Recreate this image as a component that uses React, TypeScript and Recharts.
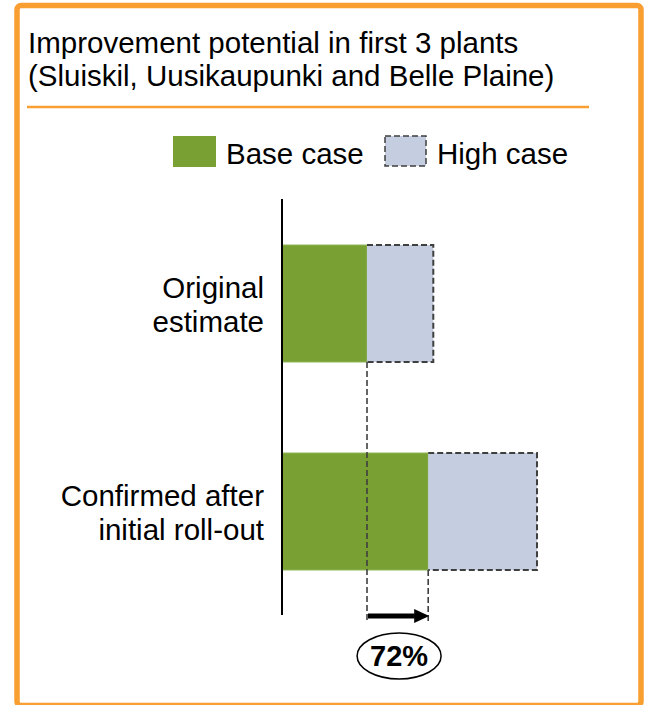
import React from "react";
import { BarChart, Bar, XAxis, YAxis } from "recharts";

const titleLines = [
  "Improvement potential in first 3 plants",
  "(Sluiskil, Uusikaupunki and Belle Plaine)",
];
const categories = ["Original estimate", "Confirmed after initial roll-out"];
const categoryLines = [
  ["Original", "estimate"],
  ["Confirmed after", "initial roll-out"],
];
const seriesNames = ["Base case", "High case"];
const baseCase = [100, 172];
const highCaseExtra = [78, 128];
const growthLabel = "72%";

const data = categories.map((name, i) => ({
  name,
  base: baseCase[i],
  high: highCaseExtra[i],
}));

const GREEN = "#78A033";
const BLUE = "#C4CEE0";
const ORANGE = "#F99E31";
const DASH = "#3F3F3F";
const FONT = "'Liberation Sans', Arial, sans-serif";
const DROP_BOTTOM = 623;

const CategoryTick = (props: any) => {
  const { x, y, payload } = props;
  const idx = categories.indexOf(payload.value);
  const lines = idx >= 0 ? categoryLines[idx] : [String(payload.value)];
  return (
    <g>
      <text
        x={x - 18}
        y={y - 5}
        textAnchor="end"
        fontFamily={FONT}
        fontSize={29.5}
        fill="#000"
      >
        <tspan x={x - 18} y={y - 5}>{lines[0]}</tspan>
        {lines[1] && (
          <tspan x={x - 18} y={y + 29}>{lines[1]}</tspan>
        )}
      </text>
    </g>
  );
};

const BaseShape = (props: any) => {
  const { x, y, width, height } = props;
  return <rect x={x} y={y} width={width} height={height} fill={GREEN} stroke="#8FB55A" strokeWidth={1} />;
};

const HighShape = (props: any) => {
  const { x, y, width, height, payload } = props;
  const isSecond = payload && payload.name === categories[1];
  const right = x + width;
  const bottom = y + height;
  let extras: React.ReactNode = null;
  if (isSecond && payload) {
    const ppu = width / payload.high;
    const origin = x - payload.base * ppu;
    const origRight = origin + baseCase[0] * ppu;
    const tip = x + 1;
    const ay = 616;
    const cx = (origRight + tip) / 2 + 1;
    extras = (
      <g>
        <line x1={origRight + 1} y1={ay} x2={tip - 13} y2={ay} stroke="#000" strokeWidth={5} />
        <polygon points={`${tip - 15},${ay - 7} ${tip},${ay} ${tip - 15},${ay + 7}`} fill="#000" />
        <ellipse cx={cx} cy={656} rx={42} ry={23} fill="#fff" stroke="#000" strokeWidth={1.5} />
        <text
          x={cx}
          y={666}
          textAnchor="middle"
          fontFamily={FONT}
          fontWeight="bold"
          fontSize={29}
          fill="#000"
        >
          {growthLabel}
        </text>
      </g>
    );
  }
  return (
    <g>
      <rect x={x} y={y} width={width} height={height} fill={BLUE} />
      <path
        d={`M${x},${y} L${right},${y} L${right},${bottom} L${x},${bottom}`}
        fill="none"
        stroke={DASH}
        strokeWidth={2}
        strokeDasharray="6 3"
      />
      <line x1={x} y1={bottom} x2={x} y2={DROP_BOTTOM} stroke={DASH} strokeWidth={1.6} strokeDasharray="6 3" />
      {extras}
    </g>
  );
};

export default function App() {
  return (
    <div
      style={{
        position: "absolute",
        left: 0,
        top: 0,
        width: 650,
        height: 705,
        background: "#fff",
        overflow: "hidden",
      }}
    >
      <svg
        width={650}
        height={705}
        style={{ position: "absolute", left: 0, top: 0 }}
      >
        <rect x={17} y={5.5} width={624} height={700} rx={4} fill="#fff" stroke={ORANGE} strokeWidth={5.5} />
        <text x={28} y={53} fontFamily={FONT} fontSize={29.5} fill="#000">
          {titleLines[0]}
        </text>
        <text x={28} y={86} fontFamily={FONT} fontSize={29.5} fill="#000">
          {titleLines[1]}
        </text>
        <line x1={27} y1={107} x2={589} y2={107} stroke={ORANGE} strokeWidth={2.5} />
        <rect x={173} y={136} width={43} height={31} fill={GREEN} />
        <text x={226} y={164} fontFamily={FONT} fontSize={29.5} fill="#000">
          {seriesNames[0]}
        </text>
        <rect x={385} y={136} width={41} height={30} fill={BLUE} stroke={DASH} strokeWidth={1.5} strokeDasharray="6 3" />
        <text x={437} y={164} fontFamily={FONT} fontSize={29.5} fill="#000">
          {seriesNames[1]}
        </text>
      </svg>
      <div style={{ position: "absolute", left: 0, top: 0 }}>
        <BarChart
          width={650}
          height={705}
          data={data}
          layout="vertical"
          margin={{ top: 199, right: 28, bottom: 90, left: 0 }}
        >
          <XAxis type="number" domain={[0, 400]} hide />
          <YAxis
            type="category"
            dataKey="name"
            width={282}
            axisLine={{ stroke: "#000", strokeWidth: 2 }}
            tickLine={false}
            tickSize={0}
            tickMargin={0}
            tick={<CategoryTick />}
            interval={0}
          />
          <Bar dataKey="base" stackId="a" barSize={117} isAnimationActive={false} shape={<BaseShape />} />
          <Bar dataKey="high" stackId="a" barSize={117} isAnimationActive={false} shape={<HighShape />} />
        </BarChart>
      </div>
    </div>
  );
}
